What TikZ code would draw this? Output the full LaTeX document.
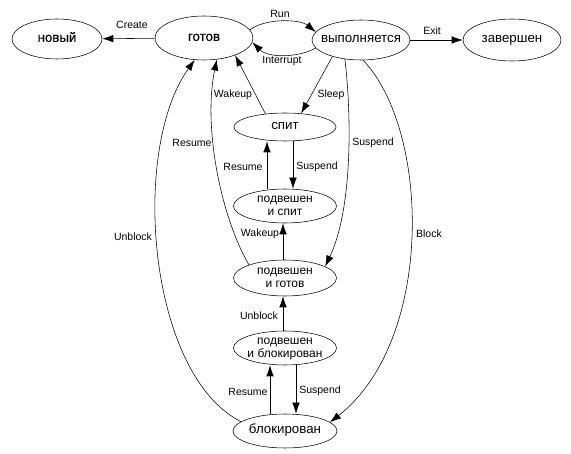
\documentclass[tikz,border=0pt]{standalone}
\usepackage{fontspec}
\setmainfont{Liberation Sans}
\newfontfamily\semibold[FakeBold=0.3]{Liberation Sans}
\usetikzlibrary{arrows.meta,shapes.geometric}
\newcommand{\ctext}[1]{\smash{\makebox[0pt]{\raisebox{-0.5ex}{\begin{tabular}{@{}c@{}}#1\end{tabular}}}}}
\begin{document}
\begin{tikzpicture}[x=1pt,y=-1pt,
  state/.style={ellipse,draw,line width=0.55pt,inner sep=0pt},
  bigtxt/.style={font=\fontsize{13.3}{15}\selectfont},
  twotxt/.style={font=\fontsize{12}{13.5}\selectfont},
  lbl/.style={font=\fontsize{10.5}{12}\selectfont,inner sep=0pt},
  arr/.style={draw,line width=0.55pt,-{Latex[length=11pt,width=7.5pt]}}]
\useasboundingbox (0,0) rectangle (571,454);
% states
\node[state,bigtxt,minimum width=90pt,minimum height=40pt] (novyi) at (57,39) {\ctext{\semibold новый}};
\node[state,bigtxt,minimum width=98pt,minimum height=44pt] (gotov) at (204,38) {\ctext{\semibold готов}};
\node[state,bigtxt,minimum width=98pt,minimum height=40pt] (vyp) at (361,40) {\ctext{выполняется}};
\node[state,bigtxt,minimum width=98pt,minimum height=42pt] (zav) at (512,40) {\ctext{завершен}};
\node[state,bigtxt,minimum width=102pt,minimum height=28pt] (spit) at (285,127) {\ctext{спит}};
\node[state,twotxt,minimum width=103pt,minimum height=34pt] (pis) at (285,206) {\ctext{подвешен\\и спит}};
\node[state,twotxt,minimum width=103pt,minimum height=36pt] (pig) at (285,278) {\ctext{подвешен\\и готов}};
\node[state,twotxt,minimum width=103pt,minimum height=34pt] (pib) at (285,348) {\ctext{подвешен\\и блокирован}};
\node[state,bigtxt,minimum width=104pt,minimum height=34pt] (bl) at (285,431) {\ctext{блокирован}};
% connectors
\draw[arr] (gotov) -- (novyi);
\draw[arr] (gotov.10) .. controls (265,18) and (300,19) .. (vyp.170);
\draw[arr] (vyp.190) .. controls (298,58) and (268,58) .. (gotov.355);
\draw[arr] (vyp) -- (zav);
\draw[arr] (vyp.210) -- (spit.40);
\draw[arr] (spit.146) -- (gotov.331);
\draw[arr] ([xshift=8pt]spit.south) -- ([xshift=8pt]pis.north);
\draw[arr] ([xshift=-18pt]pis.north) -- ([xshift=-18pt]spit.south);
\draw[arr] ([xshift=-2pt]pig.north) -- ([xshift=-2pt]pis.south);
\draw[arr] ([xshift=-2pt]pib.north) -- ([xshift=-2pt]pig.south);
\draw[arr] ([xshift=-15pt]bl.north) -- ([xshift=-15pt]pib.south);
\draw[arr] ([xshift=11pt]pib.south) -- ([xshift=11pt]bl.north);
\draw[arr] (pig.160) .. controls (220,215) and (203,125) .. (gotov.301);
\draw[arr] (bl.168) .. controls (148,375) and (130,150) .. (gotov.247);
\draw[arr] (vyp.230) .. controls (352,120) and (352,210) .. (pig.16);
\draw[arr] (vyp.276) .. controls (430,130) and (435,340) .. (bl.11);
% labels
\node[lbl] (lcreate) at (132,25) {Create};
\node[lbl] (lrun) at (280,14) {Run};
\node[lbl] (lint) at (282,61) {Interrupt};
\node[lbl] (lexit) at (432,31) {Exit};
\node[lbl] (lsleep) at (331,95) {Sleep};
\node[lbl] (lwake1) at (233,95) {Wakeup};
\node[lbl] (lres1) at (192,143) {Resume};
\node[lbl] (lsus1) at (373,143) {Suspend};
\node[lbl] (lres2) at (243,167) {Resume};
\node[lbl] (lsus2) at (317,167) {Suspend};
\node[lbl] (lwake2) at (260,234) {Wakeup};
\node[lbl] (lblock) at (429,234) {Block};
\node[lbl] (lunb1) at (133,237) {Unblock};
\node[lbl] (lunb2) at (259,316) {Unblock};
\node[lbl] (lres3) at (248,392) {Resume};
\node[lbl] (lsus3) at (320,391) {Suspend};
\end{tikzpicture}
\end{document}
